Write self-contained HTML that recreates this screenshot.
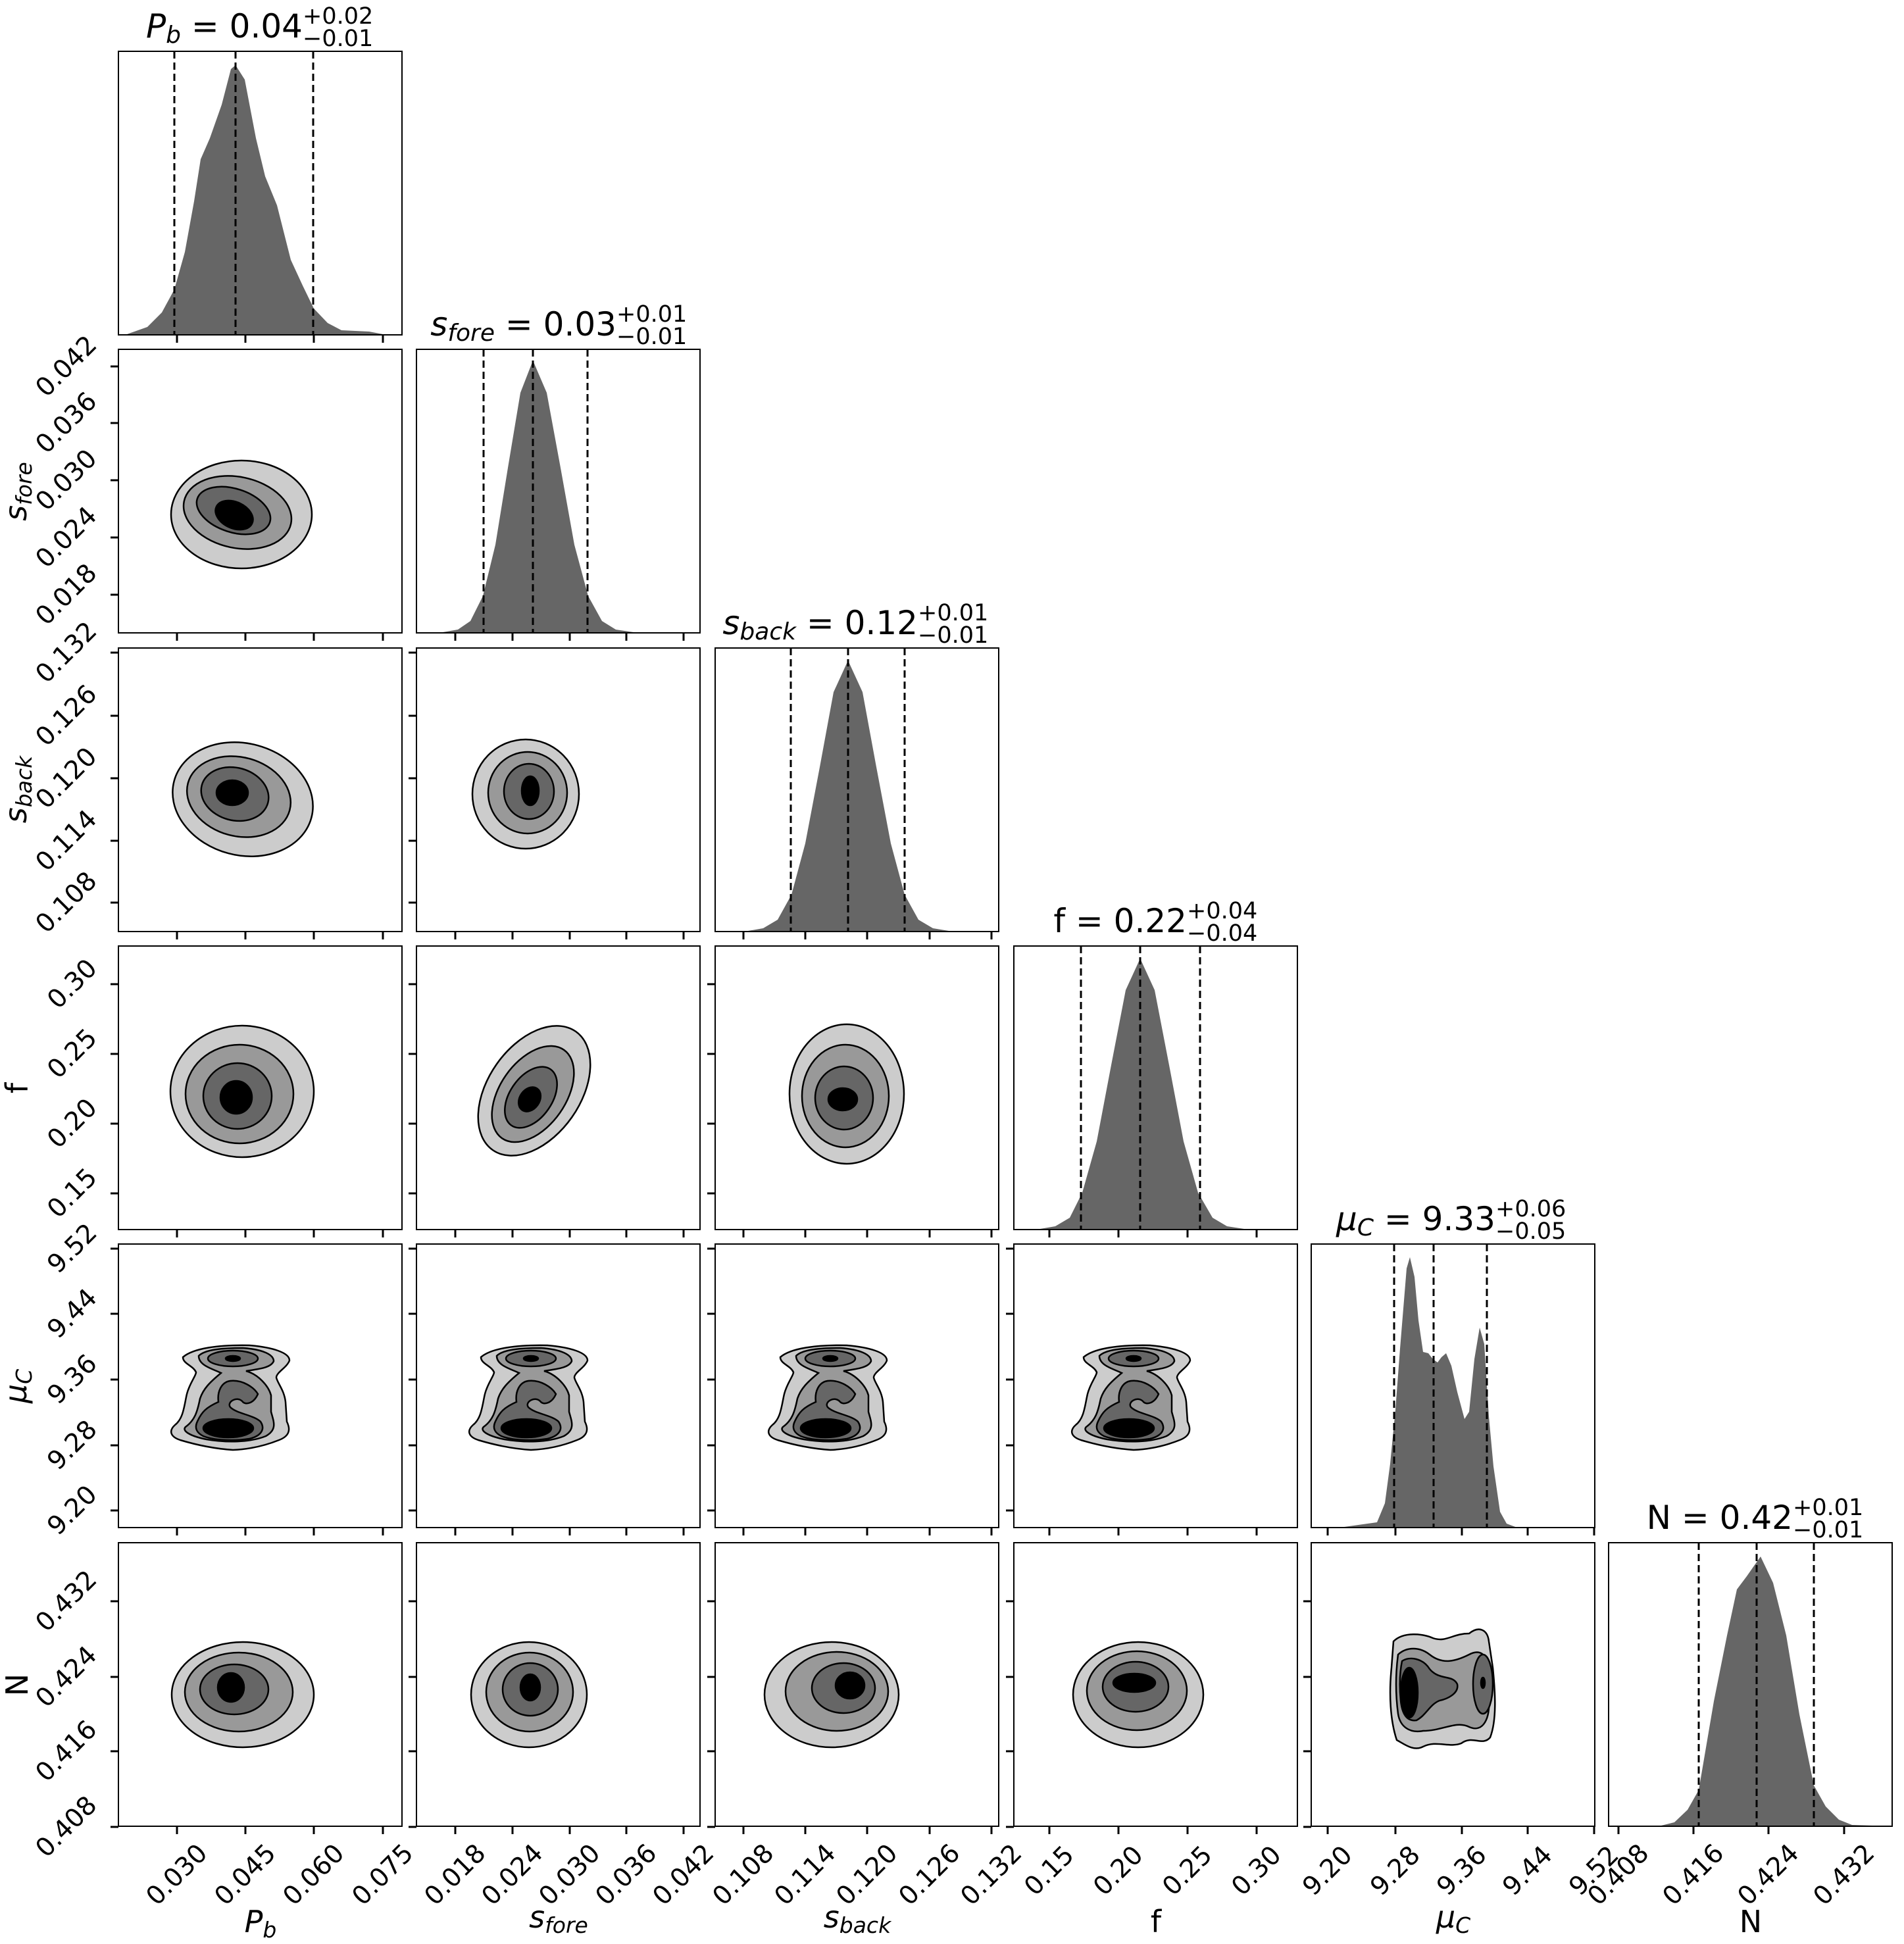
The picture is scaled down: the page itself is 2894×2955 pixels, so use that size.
<!DOCTYPE html>
<html><head><meta charset="utf-8"><style>
html,body{margin:0;padding:0;background:#fff;}
svg{display:block;}
text{font-family:"DejaVu Sans","Liberation Sans",sans-serif;fill:#000;}
</style></head><body>
<svg xmlns="http://www.w3.org/2000/svg" width="2894" height="2955" viewBox="0 0 2894 2955">
<rect width="2894" height="2955" fill="#fff"/>

<g transform="translate(180,78)">
<path d="M0,431 L13,430 44,419 66,397 85,362 101,305 115,228 125,164 139,132 157,81 171,27 178,21 192,43 209,132 223,190 241,234 262,317 280,356 297,391 318,413 339,424 381,426 402,430 431,431 Z" fill="#666"/>
<g stroke="#000" stroke-width="3" stroke-dasharray="11,6"><line x1="85" y1="0" x2="85" y2="431"/><line x1="178" y1="0" x2="178" y2="431"/><line x1="296" y1="0" x2="296" y2="431"/></g>
</g>
<g transform="translate(633,531)">
<path d="M20,431 L40,430 63,426 82,413 101,375 120,297 139,180 158,66 177,17 198,66 219,180 240,297 261,375 282,413 303,426 330,430 360,431 Z" fill="#666"/>
<g stroke="#000" stroke-width="3" stroke-dasharray="11,6"><line x1="102" y1="0" x2="102" y2="431"/><line x1="177" y1="0" x2="177" y2="431"/><line x1="260" y1="0" x2="260" y2="431"/></g>
</g>
<g transform="translate(1087,985)">
<path d="M25,431 L50,430 73,426 95,413 116,375 137,297 159,181 180,67 202,19 224,67 245,181 267,297 288,375 309,413 331,426 355,430 380,431 Z" fill="#666"/>
<g stroke="#000" stroke-width="3" stroke-dasharray="11,6"><line x1="115" y1="0" x2="115" y2="431"/><line x1="202" y1="0" x2="202" y2="431"/><line x1="288" y1="0" x2="288" y2="431"/></g>
</g>
<g transform="translate(1541,1438)">
<path d="M15,431 L40,430 63,426 85,413 104,375 126,297 148,181 170,67 192,19 214,67 236,181 258,297 280,375 302,413 324,426 350,430 375,431 Z" fill="#666"/>
<g stroke="#000" stroke-width="3" stroke-dasharray="11,6"><line x1="102" y1="0" x2="102" y2="431"/><line x1="192" y1="0" x2="192" y2="431"/><line x1="283" y1="0" x2="283" y2="431"/></g>
</g>
<g transform="translate(1993,1891)">
<path d="M43,431 L100,423 112,394 120,334 128,252 135,159 145,37 150,20 157,50 163,116 170,164 178,166 185,175 192,180 198,172 205,166 213,185 222,225 233,266 240,255 248,175 256,127 263,152 270,262 277,338 287,407 297,425 313,431 Z" fill="#666"/>
<g stroke="#000" stroke-width="3" stroke-dasharray="11,6"><line x1="126" y1="0" x2="126" y2="431"/><line x1="186" y1="0" x2="186" y2="431"/><line x1="267" y1="0" x2="267" y2="431"/></g>
</g>
<g transform="translate(2445,2345)">
<path d="M60,431 L80,430 100,425 120,406 137,376 160,241 180,141 195,71 210,51 231,21 250,61 270,141 290,261 312,369 330,401 350,421 370,429 431,431 Z" fill="#666"/>
<g stroke="#000" stroke-width="3" stroke-dasharray="11,6"><line x1="137" y1="0" x2="137" y2="431"/><line x1="225" y1="0" x2="225" y2="431"/><line x1="312" y1="0" x2="312" y2="431"/></g>
</g>

<g stroke="#000" stroke-width="2.5">
<g transform="translate(180,531)">
<ellipse cx="187" cy="251" rx="107" ry="82" fill="#ccc"/>
<ellipse cx="181" cy="248" rx="83" ry="54" fill="#999" transform="rotate(12 181 248)"/>
<ellipse cx="175" cy="245" rx="58" ry="33" fill="#666" transform="rotate(18 175 245)"/>
<ellipse cx="176" cy="252" rx="30" ry="20" fill="#000" transform="rotate(25 176 252)"/>
</g>
<g transform="translate(180,985)">
<ellipse cx="189" cy="230" rx="108" ry="85" fill="#ccc" transform="rotate(15 189 230)"/>
<ellipse cx="183" cy="226" rx="80" ry="60" fill="#999" transform="rotate(15 183 226)"/>
<ellipse cx="177" cy="222" rx="52" ry="40" fill="#666" transform="rotate(15 177 222)"/>
<ellipse cx="173" cy="220" rx="24" ry="19" fill="#000"/>
</g>
<g transform="translate(633,985)">
<ellipse cx="166" cy="222" rx="81" ry="83" fill="#ccc"/>
<ellipse cx="169" cy="220" rx="60" ry="62" fill="#999"/>
<ellipse cx="171" cy="218" rx="38" ry="42" fill="#666"/>
<ellipse cx="173" cy="217" rx="13" ry="22" fill="#000"/>
</g>
<g transform="translate(180,1438)">
<ellipse cx="188" cy="221" rx="109" ry="100" fill="#ccc"/>
<ellipse cx="184" cy="225" rx="82" ry="75" fill="#999"/>
<ellipse cx="181" cy="228" rx="52" ry="50" fill="#666"/>
<ellipse cx="179" cy="230" rx="24" ry="25" fill="#000"/>
</g>
<g transform="translate(633,1438)">
<ellipse cx="179" cy="220" rx="110" ry="70" fill="#ccc" transform="rotate(-55 179 220)"/>
<ellipse cx="177" cy="225" rx="82" ry="50" fill="#999" transform="rotate(-55 177 225)"/>
<ellipse cx="174" cy="230" rx="52" ry="32" fill="#666" transform="rotate(-55 174 230)"/>
<ellipse cx="172" cy="233" rx="20" ry="15" fill="#000" transform="rotate(-55 172 233)"/>
</g>
<g transform="translate(1087,1438)">
<ellipse cx="200" cy="225" rx="87" ry="106" fill="#ccc"/>
<ellipse cx="198" cy="228" rx="66" ry="78" fill="#999"/>
<ellipse cx="196" cy="231" rx="44" ry="48" fill="#666"/>
<ellipse cx="194" cy="233" rx="22" ry="17" fill="#000"/>
</g>
<g transform="translate(180,2345)">
<ellipse cx="189" cy="231" rx="108" ry="80" fill="#ccc"/>
<ellipse cx="183" cy="227" rx="82" ry="60" fill="#999"/>
<ellipse cx="176" cy="223" rx="52" ry="38" fill="#666"/>
<ellipse cx="171" cy="220" rx="20" ry="22" fill="#000"/>
</g>
<g transform="translate(633,2345)">
<ellipse cx="171" cy="231" rx="88" ry="80" fill="#ccc"/>
<ellipse cx="172" cy="227" rx="66" ry="60" fill="#999"/>
<ellipse cx="173" cy="223" rx="42" ry="40" fill="#666"/>
<ellipse cx="173" cy="220" rx="15" ry="20" fill="#000"/>
</g>
<g transform="translate(1087,2345)">
<ellipse cx="177" cy="231" rx="102" ry="80" fill="#ccc"/>
<ellipse cx="185" cy="226" rx="78" ry="60" fill="#999"/>
<ellipse cx="195" cy="221" rx="48" ry="38" fill="#666"/>
<ellipse cx="205" cy="217" rx="22" ry="20" fill="#000"/>
</g>
<g transform="translate(1541,2345)">
<ellipse cx="189" cy="231" rx="99" ry="80" fill="#ccc"/>
<ellipse cx="187" cy="225" rx="76" ry="60" fill="#999"/>
<ellipse cx="185" cy="219" rx="50" ry="38" fill="#666"/>
<ellipse cx="183" cy="213" rx="32" ry="14" fill="#000"/>
</g>
<g transform="translate(1993,2345)">
<path d="M125,150 C140,135 170,138 185,145 C205,152 215,138 240,138 C255,126 268,132 270,150 L276,190 C280,230 282,270 272,296 C260,310 245,292 228,305 C210,312 190,300 170,310 C155,318 140,305 130,300 C120,270 118,230 122,190 Z" fill="#ccc"/>
<path d="M132,170 C145,158 165,158 180,170 C200,186 220,180 240,170 C255,162 268,168 268,190 L270,240 C272,265 262,290 240,280 C220,270 200,286 170,286 C150,290 135,280 132,260 C128,230 128,200 132,170 Z" fill="#999"/>
<path d="M138,180 C150,172 170,176 180,192 C195,210 215,200 222,215 C225,230 205,238 195,240 C180,246 175,262 160,270 C145,272 138,260 136,240 C134,220 134,200 138,180 Z" fill="#666"/>
<ellipse cx="261" cy="215" rx="15" ry="45" fill="#666"/>
<ellipse cx="149" cy="228" rx="13" ry="38" fill="#000"/>
<ellipse cx="261" cy="213" rx="3" ry="8" fill="#000"/>
</g>
</g>

<g stroke="#000" stroke-width="2.5">
<g id="mu0" transform="translate(1533,1891)">
<path d="M114,172 C130,158 170,153 215,154 C250,157 276,165 276,177 C272,188 256,195 256,203 C258,212 268,222 270,240 L272,270 C278,282 276,292 260,298 C240,306 215,312 190,313 C160,311 130,304 110,298 C95,293 92,284 102,275 C115,265 116,245 120,228 C124,212 134,200 134,195 C130,185 114,182 114,172 Z" fill="#ccc"/>
<path d="M138,170 C148,160 175,158 205,158 C235,160 252,168 252,178 C248,188 230,190 210,193 C228,198 244,215 248,230 L248,255 C252,270 258,282 240,292 C215,302 180,302 150,297 C125,292 112,284 118,278 C132,268 136,255 140,235 C145,220 155,210 172,196 C160,190 138,185 138,170 Z" fill="#999"/>
<ellipse cx="190" cy="174" rx="38" ry="12" fill="#666"/>
<path d="M135,272 C142,255 150,248 168,240 C166,225 172,210 186,208 C205,206 222,218 228,228 C222,242 210,245 205,240 C197,230 180,240 186,248 C196,258 222,260 232,270 C240,282 232,292 215,296 C190,300 160,298 145,292 C135,287 132,280 135,272 Z" fill="#666"/>
<ellipse cx="183" cy="280" rx="38" ry="14" fill="#000"/>
<ellipse cx="190" cy="174" rx="11" ry="4" fill="#000"/>
</g>
<use href="#mu0" transform="translate(-461,0)"/>
<use href="#mu0" transform="translate(-916,0)"/>
<use href="#mu0" transform="translate(-1369,0)"/>
</g>

<g fill="none" stroke="#000" stroke-width="2">
<rect x="180" y="78" width="431" height="431"/>
<rect x="180" y="531" width="431" height="431"/><rect x="633" y="531" width="431" height="431"/>
<rect x="180" y="985" width="431" height="431"/><rect x="633" y="985" width="431" height="431"/><rect x="1087" y="985" width="431" height="431"/>
<rect x="180" y="1438" width="431" height="431"/><rect x="633" y="1438" width="431" height="431"/><rect x="1087" y="1438" width="431" height="431"/><rect x="1541" y="1438" width="431" height="431"/>
<rect x="180" y="1891" width="431" height="431"/><rect x="633" y="1891" width="431" height="431"/><rect x="1087" y="1891" width="431" height="431"/><rect x="1541" y="1891" width="431" height="431"/><rect x="1993" y="1891" width="431" height="431"/>
<rect x="180" y="2345" width="431" height="431"/><rect x="633" y="2345" width="431" height="431"/><rect x="1087" y="2345" width="431" height="431"/><rect x="1541" y="2345" width="431" height="431"/><rect x="1993" y="2345" width="431" height="431"/><rect x="2445" y="2345" width="431" height="431"/>
</g>

<g stroke="#000" stroke-width="3">
<path d="M269,509v12M373,509v12M477,509v12M582,509v12 M269,962v12M373,962v12M477,962v12M582,962v12 M269,1416v12M373,1416v12M477,1416v12M582,1416v12 M269,1869v12M373,1869v12M477,1869v12M582,1869v12 M269,2322v12M373,2322v12M477,2322v12M582,2322v12 M269,2776v12M373,2776v12M477,2776v12M582,2776v12"/>
<path d="M692,962v12M779,962v12M866,962v12M952,962v12M1039,962v12 M692,1416v12M779,1416v12M866,1416v12M952,1416v12M1039,1416v12 M692,1869v12M779,1869v12M866,1869v12M952,1869v12M1039,1869v12 M692,2322v12M779,2322v12M866,2322v12M952,2322v12M1039,2322v12 M692,2776v12M779,2776v12M866,2776v12M952,2776v12M1039,2776v12"/>
<path d="M1130,1416v12M1224,1416v12M1318,1416v12M1413,1416v12M1507,1416v12 M1130,1869v12M1224,1869v12M1318,1869v12M1413,1869v12M1507,1869v12 M1130,2322v12M1224,2322v12M1318,2322v12M1413,2322v12M1507,2322v12 M1130,2776v12M1224,2776v12M1318,2776v12M1413,2776v12M1507,2776v12"/>
<path d="M1595,1869v12M1700,1869v12M1805,1869v12M1910,1869v12 M1595,2322v12M1700,2322v12M1805,2322v12M1910,2322v12 M1595,2776v12M1700,2776v12M1805,2776v12M1910,2776v12"/>
<path d="M2018,2322v12M2121,2322v12M2222,2322v12M2322,2322v12M2423,2322v12 M2018,2776v12M2121,2776v12M2222,2776v12M2322,2776v12M2423,2776v12"/>
<path d="M2460,2776v12M2574,2776v12M2688,2776v12M2803,2776v12"/>
<path d="M180,557h-12M180,643h-12M180,730h-12M180,817h-12M180,904h-12"/>
<path d="M180,992h-12M180,1088h-12M180,1183h-12M180,1278h-12M180,1372h-12 M633,992h-12M633,1088h-12M633,1183h-12M633,1278h-12M633,1372h-12"/>
<path d="M180,1496h-12M180,1602h-12M180,1708h-12M180,1814h-12 M633,1496h-12M633,1602h-12M633,1708h-12M633,1814h-12 M1087,1496h-12M1087,1602h-12M1087,1708h-12M1087,1814h-12"/>
<path d="M180,1898h-12M180,1997h-12M180,2097h-12M180,2197h-12M180,2296h-12 M633,1898h-12M633,1997h-12M633,2097h-12M633,2197h-12M633,2296h-12 M1087,1898h-12M1087,1997h-12M1087,2097h-12M1087,2197h-12M1087,2296h-12 M1541,1898h-12M1541,1997h-12M1541,2097h-12M1541,2197h-12M1541,2296h-12"/>
<path d="M180,2434h-12M180,2549h-12M180,2662h-12M180,2777h-12 M633,2434h-12M633,2549h-12M633,2662h-12M633,2777h-12 M1087,2434h-12M1087,2549h-12M1087,2662h-12M1087,2777h-12 M1541,2434h-12M1541,2549h-12M1541,2662h-12M1541,2777h-12 M1993,2434h-12M1993,2549h-12M1993,2662h-12M1993,2777h-12"/>
</g>

<g font-size="39" text-anchor="middle" dominant-baseline="central">
<text transform="translate(269,2850) rotate(-45)">0.030</text>
<text transform="translate(373,2850) rotate(-45)">0.045</text>
<text transform="translate(477,2850) rotate(-45)">0.060</text>
<text transform="translate(582,2850) rotate(-45)">0.075</text>
<text transform="translate(692,2850) rotate(-45)">0.018</text>
<text transform="translate(779,2850) rotate(-45)">0.024</text>
<text transform="translate(866,2850) rotate(-45)">0.030</text>
<text transform="translate(952,2850) rotate(-45)">0.036</text>
<text transform="translate(1039,2850) rotate(-45)">0.042</text>
<text transform="translate(1130,2850) rotate(-45)">0.108</text>
<text transform="translate(1224,2850) rotate(-45)">0.114</text>
<text transform="translate(1318,2850) rotate(-45)">0.120</text>
<text transform="translate(1413,2850) rotate(-45)">0.126</text>
<text transform="translate(1507,2850) rotate(-45)">0.132</text>
<text transform="translate(1595,2844) rotate(-45)">0.15</text>
<text transform="translate(1700,2844) rotate(-45)">0.20</text>
<text transform="translate(1805,2844) rotate(-45)">0.25</text>
<text transform="translate(1910,2844) rotate(-45)">0.30</text>
<text transform="translate(2018,2844) rotate(-45)">9.20</text>
<text transform="translate(2121,2844) rotate(-45)">9.28</text>
<text transform="translate(2222,2844) rotate(-45)">9.36</text>
<text transform="translate(2322,2844) rotate(-45)">9.44</text>
<text transform="translate(2423,2844) rotate(-45)">9.52</text>
<text transform="translate(2460,2850) rotate(-45)">0.408</text>
<text transform="translate(2574,2850) rotate(-45)">0.416</text>
<text transform="translate(2688,2850) rotate(-45)">0.424</text>
<text transform="translate(2803,2850) rotate(-45)">0.432</text>
</g>

<g font-size="39" text-anchor="middle" dominant-baseline="central">
<text transform="translate(101,557) rotate(-45)">0.042</text>
<text transform="translate(101,643) rotate(-45)">0.036</text>
<text transform="translate(101,730) rotate(-45)">0.030</text>
<text transform="translate(101,817) rotate(-45)">0.024</text>
<text transform="translate(101,904) rotate(-45)">0.018</text>
<text transform="translate(101,992) rotate(-45)">0.132</text>
<text transform="translate(101,1088) rotate(-45)">0.126</text>
<text transform="translate(101,1183) rotate(-45)">0.120</text>
<text transform="translate(101,1278) rotate(-45)">0.114</text>
<text transform="translate(101,1372) rotate(-45)">0.108</text>
<text transform="translate(110,1496) rotate(-45)">0.30</text>
<text transform="translate(110,1602) rotate(-45)">0.25</text>
<text transform="translate(110,1708) rotate(-45)">0.20</text>
<text transform="translate(110,1814) rotate(-45)">0.15</text>
<text transform="translate(110,1898) rotate(-45)">9.52</text>
<text transform="translate(110,1997) rotate(-45)">9.44</text>
<text transform="translate(110,2097) rotate(-45)">9.36</text>
<text transform="translate(110,2197) rotate(-45)">9.28</text>
<text transform="translate(110,2296) rotate(-45)">9.20</text>
<text transform="translate(101,2434) rotate(-45)">0.432</text>
<text transform="translate(101,2549) rotate(-45)">0.424</text>
<text transform="translate(101,2662) rotate(-45)">0.416</text>
<text transform="translate(101,2777) rotate(-45)">0.408</text>
</g>

<g font-size="46" text-anchor="middle">
<text x="396" y="2937"><tspan font-style="italic">P</tspan><tspan font-style="italic" font-size="33" dy="8">b</tspan></text>
<text x="849" y="2930"><tspan font-style="italic">s</tspan><tspan font-style="italic" font-size="33" dy="8">fore</tspan></text>
<text x="1303" y="2930"><tspan font-style="italic">s</tspan><tspan font-style="italic" font-size="33" dy="8">back</tspan></text>
<text x="1757" y="2937">f</text>
<text x="2209" y="2930"><tspan font-style="italic">μ</tspan><tspan font-style="italic" font-size="33" dy="8">C</tspan></text>
<text x="2661" y="2937">N</text>
<text transform="translate(40,747) rotate(-90)"><tspan font-style="italic">s</tspan><tspan font-style="italic" font-size="33" dy="8">fore</tspan></text>
<text transform="translate(40,1200) rotate(-90)"><tspan font-style="italic">s</tspan><tspan font-style="italic" font-size="33" dy="8">back</tspan></text>
<text transform="translate(42,1654) rotate(-90)">f</text>
<text transform="translate(40,2107) rotate(-90)"><tspan font-style="italic">μ</tspan><tspan font-style="italic" font-size="33" dy="8">C</tspan></text>
<text transform="translate(42,2561) rotate(-90)">N</text>
</g>

<g font-size="50">
<text x="460" y="57" text-anchor="end"><tspan font-style="italic">P</tspan><tspan font-style="italic" font-size="36" dy="8">b</tspan><tspan dy="-8"> = 0.04</tspan></text>
<text x="460" y="36" font-size="35">+0.02</text><text x="460" y="70" font-size="35">−0.01</text>

<text x="937" y="510" text-anchor="end"><tspan font-style="italic">s</tspan><tspan font-style="italic" font-size="36" dy="8">fore</tspan><tspan dy="-8"> = 0.03</tspan></text>
<text x="937" y="489" font-size="35">+0.01</text><text x="937" y="523" font-size="35">−0.01</text>

<text x="1395" y="964" text-anchor="end"><tspan font-style="italic">s</tspan><tspan font-style="italic" font-size="36" dy="8">back</tspan><tspan dy="-8"> = 0.12</tspan></text>
<text x="1395" y="943" font-size="35">+0.01</text><text x="1395" y="977" font-size="35">−0.01</text>

<text x="1804" y="1417" text-anchor="end">f = 0.22</text>
<text x="1804" y="1396" font-size="35">+0.04</text><text x="1804" y="1430" font-size="35">−0.04</text>

<text x="2273" y="1870" text-anchor="end"><tspan font-style="italic">μ</tspan><tspan font-style="italic" font-size="36" dy="8">C</tspan><tspan dy="-8"> = 9.33</tspan></text>
<text x="2273" y="1849" font-size="35">+0.06</text><text x="2273" y="1883" font-size="35">−0.05</text>

<text x="2725" y="2324" text-anchor="end">N = 0.42</text>
<text x="2725" y="2303" font-size="35">+0.01</text><text x="2725" y="2337" font-size="35">−0.01</text>
</g>
</svg>
</body></html>
